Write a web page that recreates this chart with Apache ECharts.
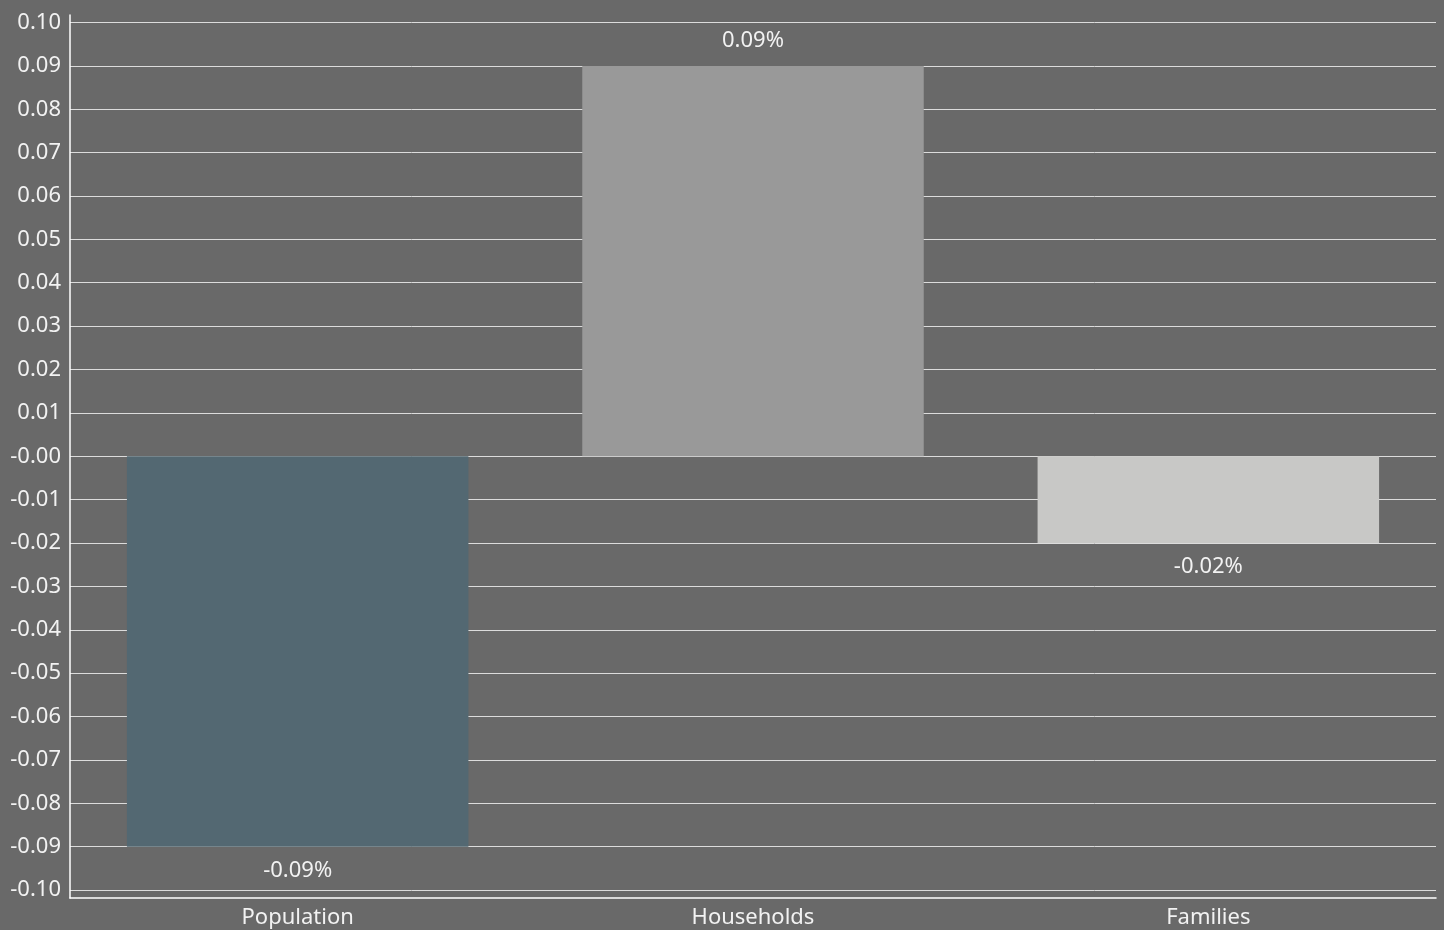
<!DOCTYPE html>
<html>
<head>
<meta charset="utf-8">
<script src="https://cdn.jsdelivr.net/npm/echarts@6/dist/echarts.min.js"></script>
<style>
html,body{margin:0;padding:0;background:#696969;}
#chart{width:1444px;height:930px;}
</style>
</head>
<body>
<div id="chart"></div>
<script>
var categories = ['Population', 'Households', 'Families'];
var values = [-0.09, 0.09, -0.02];
var barColors = ['#536872', '#999999', '#c8c8c6'];
var yMin = -0.10, yMax = 0.10, yStep = 0.01;

var chart = echarts.init(document.getElementById('chart'));
var font = '"Noto Sans", "Open Sans", sans-serif';

function fmtTick(v) {
  if (Math.abs(v) < 1e-9) return '-0.00';
  return v.toFixed(2);
}

chart.setOption({
  backgroundColor: '#696969',
  animation: false,
  grid: [
    {left: 70, right: 8, top: 15, bottom: 32, containLabel: false},
    {left: 70, right: 8, top: 22.5, bottom: 40, containLabel: false}
  ],
  xAxis: [
    {
      type: 'category', gridIndex: 0, data: categories,
      axisLine: {show: true, onZero: false, lineStyle: {color: '#ffffff', width: 1.5}},
      axisTick: {show: false},
      axisLabel: {color: '#f2f2f2', fontSize: 22, fontFamily: font, margin: 9},
      splitLine: {show: false}
    },
    {
      type: 'category', gridIndex: 1, data: categories,
      axisLine: {show: false}, axisTick: {show: false}, axisLabel: {show: false},
      splitLine: {show: false}
    }
  ],
  yAxis: [
    {
      type: 'value', gridIndex: 0, min: -0.1017, max: 0.1017,
      axisLine: {show: true, lineStyle: {color: '#ffffff', width: 1.5}},
      axisTick: {show: false}, axisLabel: {show: false}, splitLine: {show: false}
    },
    {
      type: 'value', gridIndex: 1, min: yMin, max: yMax, interval: yStep,
      axisLine: {show: false}, axisTick: {show: false},
      axisLabel: {color: '#f2f2f2', fontSize: 22, fontFamily: font, margin: 9, formatter: fmtTick},
      splitLine: {show: true, lineStyle: {color: '#dcdcdc', width: 1}}
    }
  ],
  series: [{
    type: 'bar',
    xAxisIndex: 1, yAxisIndex: 1,
    barWidth: '75%',
    data: values.map(function (v, i) {
      return {value: v, itemStyle: {color: barColors[i]},
        label: {position: v >= 0 ? 'top' : 'bottom', distance: v >= 0 ? 14 : 13}};
    }),
    label: {
      show: true, color: '#f2f2f2', fontSize: 22, fontFamily: font,
      formatter: function (p) { return p.value.toFixed(2) + '%'; }
    }
  }]
});
</script>
</body>
</html>
